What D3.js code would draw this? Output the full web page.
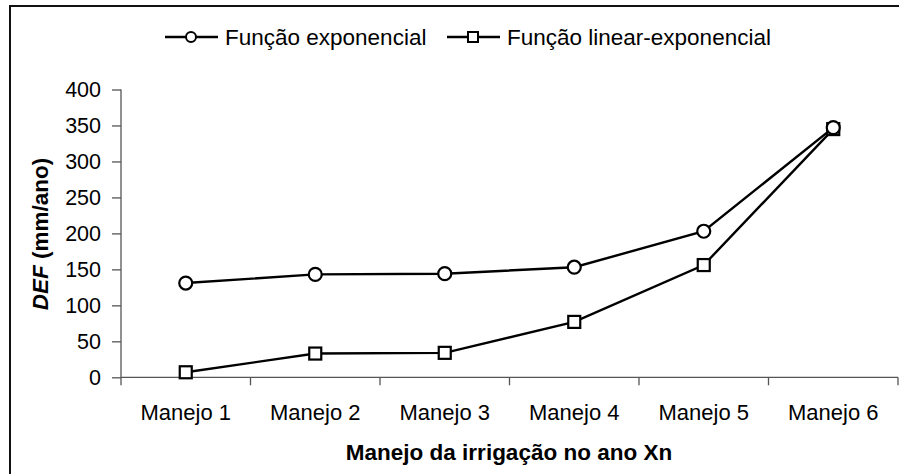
<!DOCTYPE html>
<html><head><meta charset="utf-8">
<script src="https://cdn.jsdelivr.net/npm/d3@7"></script>
<style>body{margin:0;background:#fff}svg{display:block}text{font-family:"Liberation Sans",Arial,sans-serif;fill:#000}</style>
</head><body>
<svg id="c" width="899" height="474"></svg>
<script>
const categories = ["Manejo 1","Manejo 2","Manejo 3","Manejo 4","Manejo 5","Manejo 6"];
const exponencial = [131, 143, 144, 153, 203, 347];
const linearExponencial = [7, 33, 34, 77, 156, 345];
const yTicks = [0,50,100,150,200,250,300,350,400];
const seriesNames = ["Função exponencial","Função linear-exponencial"];

const svg = d3.select("#c");
// outer border
svg.append("rect").attr("x",10).attr("y",6).attr("width",920).attr("height",500)
  .attr("fill","none").attr("stroke","#111").attr("stroke-width",2);

const x = d3.scaleBand().domain(categories).range([121,898]);
const y = d3.scaleLinear().domain([0,400]).range([377.3,89.5]);

// y axis
const ya = svg.append("g").attr("transform","translate(121,0)")
  .call(d3.axisLeft(y).tickValues(yTicks).tickSize(9).tickPadding(11));
ya.selectAll("path,line").attr("stroke","#555").attr("stroke-width",1.3);
ya.select(".domain").attr("d","M0,89.5V377.3");
ya.selectAll("text").attr("font-size",21.5).style("font-family","Liberation Sans, Arial, sans-serif");

// x axis with ticks at band boundaries
const xa = svg.append("g").attr("transform","translate(0,377.3)");
xa.append("line").attr("x1",121).attr("x2",898).attr("stroke","#555").attr("stroke-width",1.3);
const bounds = categories.map(c=>x(c)).concat([x(categories[categories.length-1])+x.bandwidth()]);
xa.selectAll("line.t").data(bounds).join("line").attr("class","t")
  .attr("x1",d=>d).attr("x2",d=>d).attr("y1",0).attr("y2",8).attr("stroke","#555").attr("stroke-width",1.3);
xa.selectAll("text").data(categories).join("text")
  .attr("x",d=>x(d)+x.bandwidth()/2).attr("y",42.7).attr("text-anchor","middle")
  .attr("font-size",22).text(d=>d);

// axis titles
svg.append("text").attr("x",509).attr("y",460).attr("text-anchor","middle")
  .attr("font-size",22.5).attr("font-weight","bold").text("Manejo da irrigação no ano Xn");
const yt = svg.append("text").attr("transform","translate(48,234) rotate(-90)")
  .attr("text-anchor","middle").attr("font-size",22.5).attr("font-weight","bold");
yt.append("tspan").attr("font-style","italic").text("DEF");
yt.append("tspan").text(" (mm/ano)");

const cx = d => x(d)+x.bandwidth()/2;
const line = d3.line().x((d,i)=>cx(categories[i])).y(d=>y(d));

svg.append("path").datum(exponencial).attr("d",line).attr("fill","none").attr("stroke","#000").attr("stroke-width",2.4);
svg.append("path").datum(linearExponencial).attr("d",line).attr("fill","none").attr("stroke","#000").attr("stroke-width",2.4);

svg.selectAll("rect.sq").data(linearExponencial).join("rect").attr("class","sq")
  .attr("x",(d,i)=>cx(categories[i])-6).attr("y",d=>y(d)-6).attr("width",12).attr("height",12)
  .attr("fill","#fff").attr("stroke","#000").attr("stroke-width",2.2);
svg.selectAll("circle.ci").data(exponencial).join("circle").attr("class","ci")
  .attr("cx",(d,i)=>cx(categories[i])).attr("cy",d=>y(d)).attr("r",6.5)
  .attr("fill","#fff").attr("stroke","#000").attr("stroke-width",2.2);

// legend
const lg = svg.append("g");
lg.append("line").attr("x1",165).attr("x2",218).attr("y1",37).attr("y2",37).attr("stroke","#000").attr("stroke-width",2.4);
lg.append("circle").attr("cx",191).attr("cy",37).attr("r",5).attr("fill","#fff").attr("stroke","#000").attr("stroke-width",2);
lg.append("text").attr("x",225).attr("y",45).attr("font-size",22.5).text(seriesNames[0]);
lg.append("line").attr("x1",447).attr("x2",500).attr("y1",37).attr("y2",37).attr("stroke","#000").attr("stroke-width",2.4);
lg.append("rect").attr("x",468).attr("y",32).attr("width",10).attr("height",10).attr("fill","#fff").attr("stroke","#000").attr("stroke-width",2);
lg.append("text").attr("x",507).attr("y",45).attr("font-size",22.5).text(seriesNames[1]);
</script>
</body></html>
